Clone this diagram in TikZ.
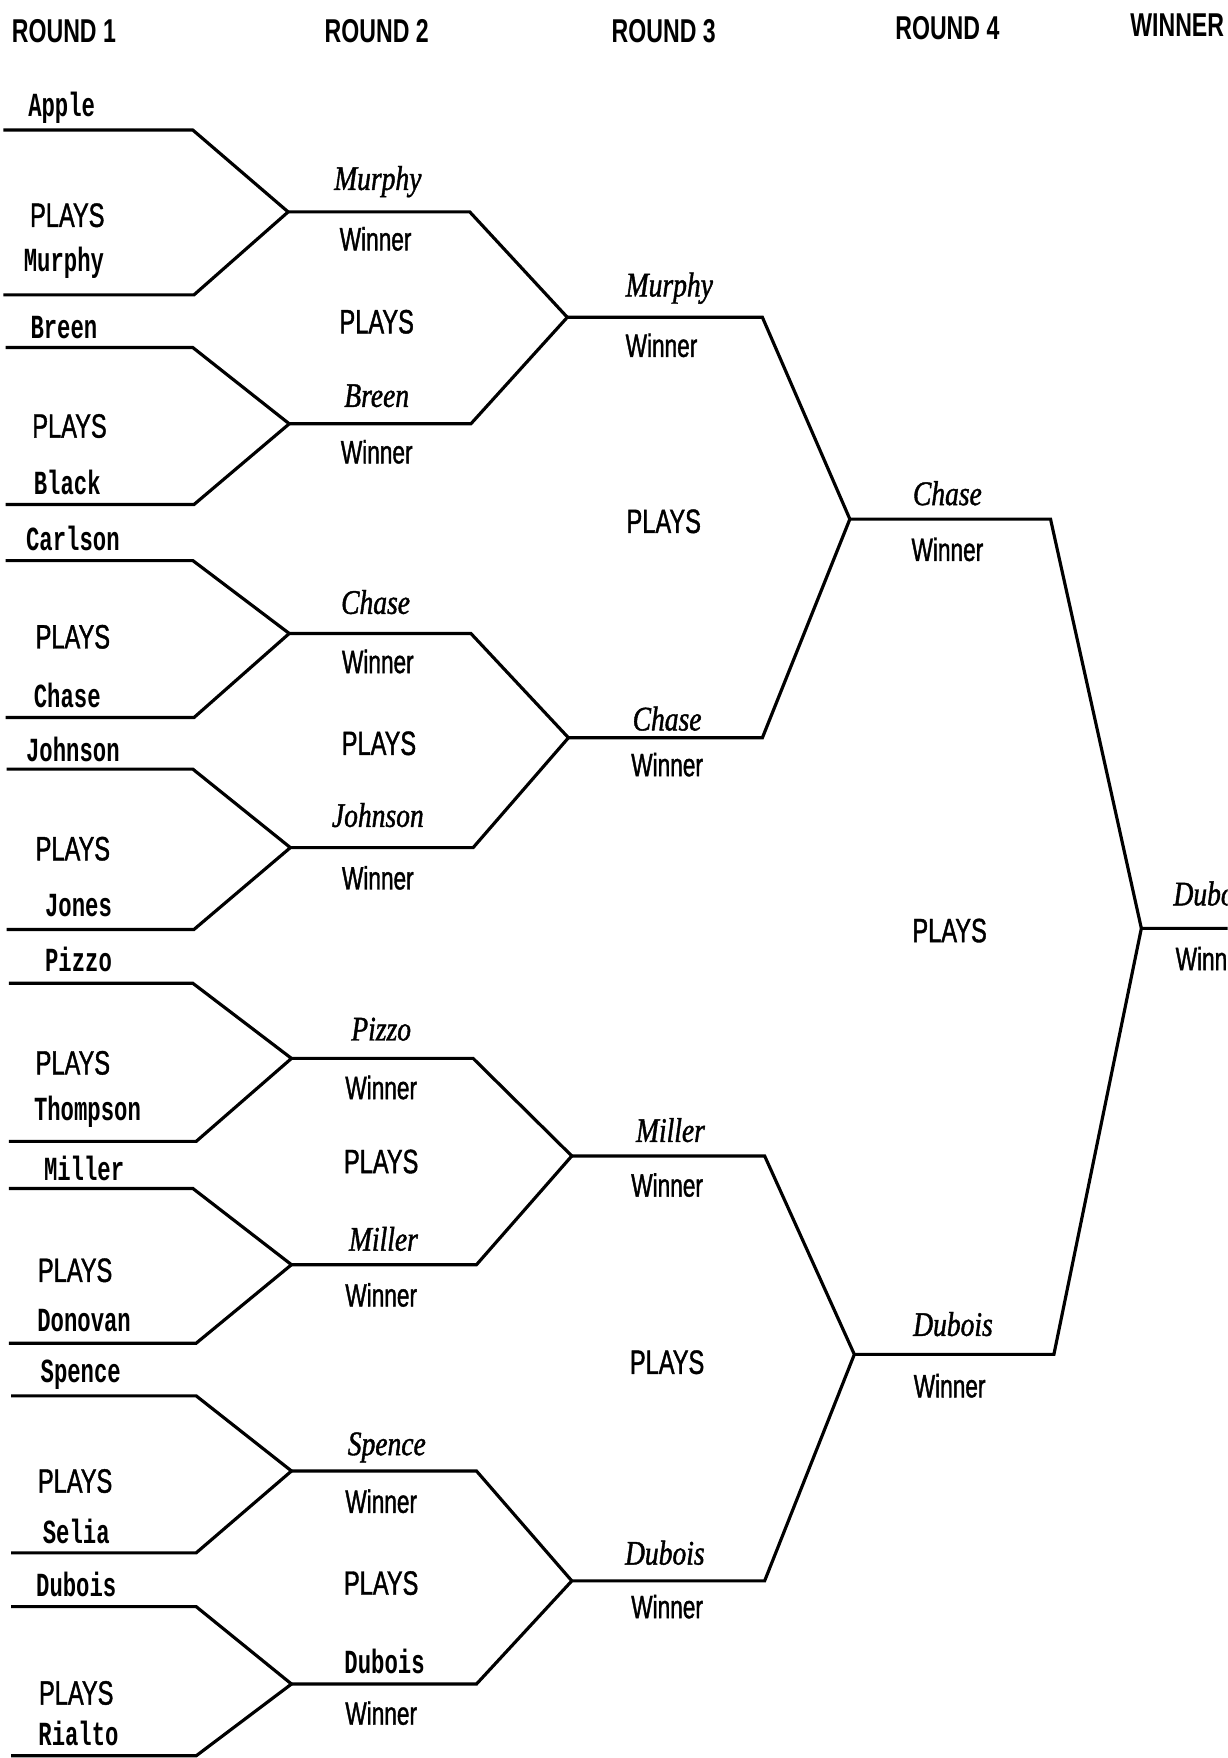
\documentclass[tikz,border=0pt]{standalone}
\usepackage{fontspec}
\usepackage{tikz}
\setmainfont[FakeStretch=0.7]{Liberation Sans}
\newfontfamily\lblfont[FakeStretch=0.7,FakeBold=1.2]{Liberation Sans}
\newfontfamily\entfont[FakeStretch=0.66]{Liberation Mono}
\newfontfamily\pickfont[FakeStretch=0.8,FakeBold=1.2]{Liberation Serif}

\begin{document}
\begin{tikzpicture}[x=0.011215cm, y=-0.011215cm,
        bline/.style={line width=0.9pt, line join=miter},
        roundhead/.style={font=\bfseries\fontsize{9.4}{11}\selectfont},
        plays/.style={font=\lblfont\fontsize{9.6}{11}\selectfont},
        winlbl/.style={font=\lblfont\fontsize{9.2}{11}\selectfont},
        entrant/.style={font=\entfont\bfseries\fontsize{9.6}{11}\selectfont},
        pick/.style={font=\pickfont\itshape\fontsize{9.8}{11}\selectfont}]
        \useasboundingbox (0,0) rectangle (1095,1568);
        \clip (0,0) rectangle (1095,1568);

        % column heads
        \node[roundhead] (h1) at (57,28) {ROUND 1};
        \node[roundhead] (h2) at (336,28) {ROUND 2};
        \node[roundhead] (h3) at (592,28) {ROUND 3};
        \node[roundhead] (h4) at (845,25) {ROUND 4};
        \node[roundhead] (h5) at (1050,22) {WINNER};

        % first round lines
        \coordinate (t1) at (3,116);   \coordinate (t1r) at (172,116);
        \coordinate (b1) at (3,263);   \coordinate (b1r) at (173,263);
        \coordinate (t2) at (5,310);   \coordinate (t2r) at (172,310);
        \coordinate (b2) at (5,450);   \coordinate (b2r) at (173,450);
        \coordinate (t3) at (5,500);   \coordinate (t3r) at (172,500);
        \coordinate (b3) at (5,640);   \coordinate (b3r) at (173,640);
        \coordinate (t4) at (6,686);   \coordinate (t4r) at (172,686);
        \coordinate (b4) at (6,829);   \coordinate (b4r) at (173,829);
        \coordinate (t5) at (8,877);   \coordinate (t5r) at (172,877);
        \coordinate (b5) at (8,1018);  \coordinate (b5r) at (175,1018);
        \coordinate (t6) at (8,1060);  \coordinate (t6r) at (172,1060);
        \coordinate (b6) at (8,1198);  \coordinate (b6r) at (175,1198);
        \coordinate (t7) at (10,1245); \coordinate (t7r) at (175,1245);
        \coordinate (b7) at (10,1385); \coordinate (b7r) at (175,1385);
        \coordinate (t8) at (10,1433); \coordinate (t8r) at (175,1433);
        \coordinate (b8) at (10,1566); \coordinate (b8r) at (175,1566);

        % second round
        \coordinate (j1) at (257,189);  \coordinate (k1) at (419,189);
        \coordinate (j2) at (258,378);  \coordinate (k2) at (420,378);
        \coordinate (j3) at (258,565);  \coordinate (k3) at (420,565);
        \coordinate (j4) at (259,756);  \coordinate (k4) at (422,756);
        \coordinate (j5) at (260,944);  \coordinate (k5) at (422,944);
        \coordinate (j6) at (260,1128); \coordinate (k6) at (425,1128);
        \coordinate (j7) at (260,1312); \coordinate (k7) at (425,1312);
        \coordinate (j8) at (260,1502); \coordinate (k8) at (425,1502);

        % third and fourth round
        \coordinate (m1) at (506,283);  \coordinate (m1r) at (680,283);
        \coordinate (m2) at (507,658);  \coordinate (m2r) at (680,658);
        \coordinate (m3) at (510,1031); \coordinate (m3r) at (682,1031);
        \coordinate (m4) at (510,1410); \coordinate (m4r) at (682,1410);
        \coordinate (q1) at (758,463);  \coordinate (q1r) at (937,463);
        \coordinate (q2) at (762,1208); \coordinate (q2r) at (940,1208);
        \coordinate (fin) at (1018,828); \coordinate (fine) at (1100,828);

        \draw[bline] (t1) -- (t1r) -- (j1) -- (b1r) -- (b1);
        \draw[bline] (t2) -- (t2r) -- (j2) -- (b2r) -- (b2);
        \draw[bline] (t3) -- (t3r) -- (j3) -- (b3r) -- (b3);
        \draw[bline] (t4) -- (t4r) -- (j4) -- (b4r) -- (b4);
        \draw[bline] (t5) -- (t5r) -- (j5) -- (b5r) -- (b5);
        \draw[bline] (t6) -- (t6r) -- (j6) -- (b6r) -- (b6);
        \draw[bline] (t7) -- (t7r) -- (j7) -- (b7r) -- (b7);
        \draw[bline] (t8) -- (t8r) -- (j8) -- (b8r) -- (b8);

        \draw[bline] (j1) -- (k1) -- (m1) -- (k2) -- (j2)
            (j3) -- (k3) -- (m2) -- (k4) -- (j4)
            (j5) -- (k5) -- (m3) -- (k6) -- (j6)
            (j7) -- (k7) -- (m4) -- (k8) -- (j8);
        \draw[bline] (m1) -- (m1r) -- (q1) -- (m2r) -- (m2)
            (m3) -- (m3r) -- (q2) -- (m4r) -- (m4);
        \draw[bline] (q1) -- (q1r) -- (fin) -- (q2r) -- (q2)
            (fin) -- (fine);

        % first round names
        \node[entrant] (n1) at (55,96) {Apple};
        \node[plays] (v1) at (60,192) {PLAYS};
        \node[entrant] (n2) at (57,234) {Murphy};
        \node[entrant] (n3) at (57,292) {Breen};
        \node[plays] (v2) at (62,380) {PLAYS};
        \node[entrant] (n4) at (60,430) {Black};
        \node[entrant] (n5) at (65,480) {Carlson};
        \node[plays] (v3) at (65,568) {PLAYS};
        \node[entrant] (n6) at (60,620) {Chase};
        \node[entrant] (n7) at (65,668) {Johnson};
        \node[plays] (v4) at (65,757) {PLAYS};
        \node[entrant] (n8) at (70,808) {Jones};
        \node[entrant] (n9) at (70,856) {Pizzo};
        \node[plays] (v5) at (65,948) {PLAYS};
        \node[entrant] (n10) at (78,992) {Thompson};
        \node[entrant] (n11) at (75,1042) {Miller};
        \node[plays] (v6) at (67,1133) {PLAYS};
        \node[entrant] (n12) at (75,1178) {Donovan};
        \node[entrant] (n13) at (72,1226) {Spence};
        \node[plays] (v7) at (67,1321) {PLAYS};
        \node[entrant] (n14) at (68,1366) {Selia};
        \node[entrant] (n15) at (68,1413) {Dubois};
        \node[plays] (v8) at (68,1510) {PLAYS};
        \node[entrant] (n16) at (70,1546) {Rialto};

        % second round
        \node[pick] (w1) at (337,162) {Murphy};
        \node[winlbl] (x1) at (335,213) {Winner};
        \node[plays] (y1) at (336,287) {PLAYS};
        \node[pick] (w2) at (336,353) {Breen};
        \node[winlbl] (x2) at (336,403) {Winner};
        \node[pick] (w3) at (335,537) {Chase};
        \node[winlbl] (x3) at (337,590) {Winner};
        \node[plays] (y2) at (338,663) {PLAYS};
        \node[pick] (w4) at (337,727) {Johnson};
        \node[winlbl] (x4) at (337,783) {Winner};
        \node[pick] (w5) at (340,918) {Pizzo};
        \node[winlbl] (x5) at (340,970) {Winner};
        \node[plays] (y3) at (340,1036) {PLAYS};
        \node[pick] (w6) at (342,1105) {Miller};
        \node[winlbl] (x6) at (340,1155) {Winner};
        \node[pick] (w7) at (345,1291) {Spence};
        \node[winlbl] (x7) at (340,1339) {Winner};
        \node[plays] (y4) at (340,1412) {PLAYS};
        \node[entrant] (w8) at (343,1482) {Dubois};
        \node[winlbl] (x8) at (340,1528) {Winner};

        % third round
        \node[pick] (r1) at (597,257) {Murphy};
        \node[winlbl] (s1) at (590,308) {Winner};
        \node[plays] (u1) at (592,465) {PLAYS};
        \node[pick] (r2) at (595,641) {Chase};
        \node[winlbl] (s2) at (595,682) {Winner};
        \node[pick] (r3) at (598,1008) {Miller};
        \node[winlbl] (s3) at (595,1057) {Winner};
        \node[plays] (u2) at (595,1215) {PLAYS};
        \node[pick] (r4) at (593,1385) {Dubois};
        \node[winlbl] (s4) at (595,1433) {Winner};

        % fourth round and final
        \node[pick] (f1) at (845,440) {Chase};
        \node[winlbl] (g1) at (845,490) {Winner};
        \node[plays] (u3) at (847,830) {PLAYS};
        \node[pick] (f2) at (850,1181) {Dubois};
        \node[winlbl] (g2) at (847,1236) {Winner};
        \node[pick, anchor=west, inner xsep=0pt] (champ) at (1046,797) {Dubois};
        \node[winlbl, anchor=west, inner xsep=0pt] (cw) at (1048,855) {Winner};
\end{tikzpicture}
\end{document}
